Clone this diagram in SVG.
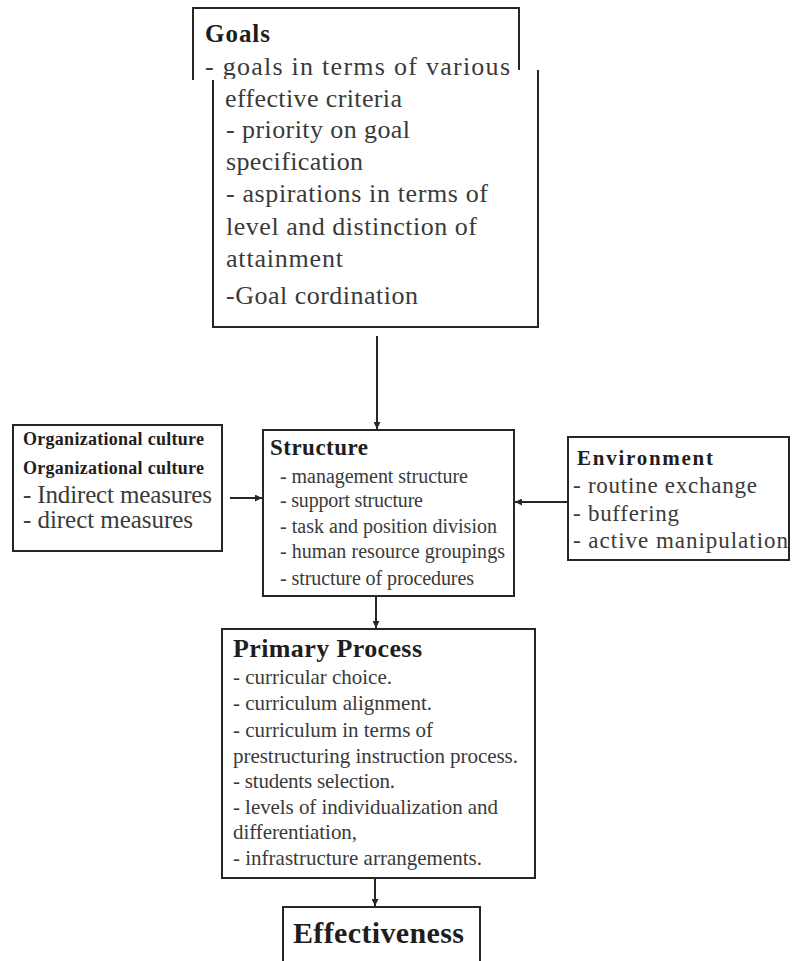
<svg xmlns="http://www.w3.org/2000/svg" width="792" height="961" viewBox="0 0 792 961">
<defs>
<style>
.box{fill:none;stroke:#262626;stroke-width:2}
.t{font-family:"Liberation Serif","Times New Roman",serif;fill:#3a3a3a}
.b{font-family:"Liberation Serif","Times New Roman",serif;font-weight:bold;fill:#1e1e1e}
.g{font-size:26px}
.s{font-size:20px}
.e{font-size:23px}
.p{font-size:21px}
.c{stroke:#262626;stroke-width:2;fill:none}
</style>
<marker id="ah" viewBox="0 0 10 10" refX="10" refY="5" markerWidth="8" markerHeight="7" markerUnits="userSpaceOnUse" orient="auto">
<path d="M0,0 L10,5 L0,10 z" fill="#262626"/>
</marker>
<clipPath id="cut"><rect x="190" y="0" width="360" height="79"/></clipPath>
</defs>
<rect width="792" height="961" fill="#ffffff"/>

<g id="goals">
<path class="box" d="M193,80 V8 H519 V70"/>
<path class="box" d="M538,70 V327 H213 V80"/>
<text class="b" x="205" y="42" font-size="25" textLength="65">Goals</text>
<text class="t g" x="205" y="75" clip-path="url(#cut)" textLength="305">- goals in terms of various</text>
<text class="t g" x="225" y="107" textLength="177">effective criteria</text>
<text class="t g" x="226" y="138" textLength="184">- priority on goal</text>
<text class="t g" x="226" y="170" textLength="137">specification</text>
<text class="t g" x="226" y="202" textLength="262">- aspirations in terms of</text>
<text class="t g" x="226" y="235" textLength="251">level and distinction of</text>
<text class="t g" x="226" y="267" textLength="117">attainment</text>
<text class="t g" x="226" y="304" textLength="192">-Goal cordination</text>
</g>

<g id="culture">
<rect class="box" x="13" y="425" width="209" height="126"/>
<text class="b" x="23" y="445" font-size="18" textLength="181">Organizational culture</text>
<text class="b" x="23" y="474" font-size="18" textLength="181">Organizational culture</text>
<text class="t" x="23" y="503" font-size="25" textLength="189">- Indirect measures</text>
<text class="t" x="23" y="528" font-size="25" textLength="170">- direct measures</text>
</g>

<g id="structure">
<rect class="box" x="263" y="430" width="251" height="166"/>
<text class="b" x="270" y="455" font-size="23" textLength="98">Structure</text>
<text class="t s" x="280" y="483" textLength="188">- management structure</text>
<text class="t s" x="280" y="507" textLength="143">- support structure</text>
<text class="t s" x="280" y="533" textLength="217">- task and position division</text>
<text class="t s" x="280" y="558" textLength="225">- human resource groupings</text>
<text class="t s" x="280" y="585" textLength="194">- structure of procedures</text>
</g>

<g id="environment">
<rect class="box" x="568" y="437" width="221" height="123"/>
<text class="b" x="577" y="465" font-size="21" textLength="136">Environment</text>
<text class="t e" x="573" y="493" textLength="184">- routine exchange</text>
<text class="t e" x="573" y="521" textLength="106">- buffering</text>
<text class="t e" x="573" y="548" textLength="215">- active manipulation</text>
</g>

<g id="primary">
<rect class="box" x="222" y="629" width="313" height="249"/>
<text class="b" x="233" y="657" font-size="26" textLength="189">Primary Process</text>
<text class="t p" x="233" y="684" textLength="159">- curricular choice.</text>
<text class="t p" x="233" y="710" textLength="199">- curriculum alignment.</text>
<text class="t p" x="233" y="737" textLength="200">- curriculum in terms of</text>
<text class="t p" x="233" y="763" textLength="285">prestructuring instruction process.</text>
<text class="t p" x="233" y="788" textLength="162">- students selection.</text>
<text class="t p" x="233" y="814" textLength="265">- levels of individualization and</text>
<text class="t p" x="233" y="839" textLength="124">differentiation,</text>
<text class="t p" x="233" y="865" textLength="249">- infrastructure arrangements.</text>
</g>

<g id="effectiveness">
<path class="box" d="M283,965 V907 H480 V965"/>
<text class="b" x="293" y="943" font-size="30" textLength="171">Effectiveness</text>
</g>

<g id="connectors">
<line class="c" x1="377" y1="336" x2="377" y2="429" marker-end="url(#ah)"/>
<line class="c" x1="230" y1="498" x2="262" y2="498" marker-end="url(#ah)"/>
<line class="c" x1="568" y1="502" x2="515" y2="502" marker-end="url(#ah)"/>
<line class="c" x1="376" y1="597" x2="376" y2="628" marker-end="url(#ah)"/>
<line class="c" x1="375" y1="879" x2="375" y2="906" marker-end="url(#ah)"/>
</g>
</svg>
